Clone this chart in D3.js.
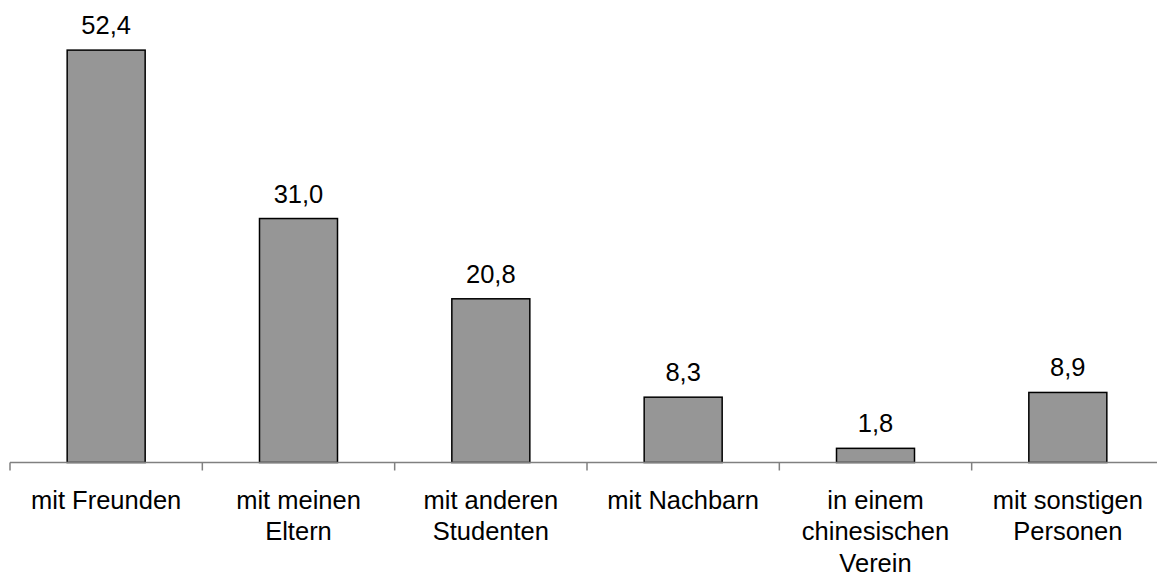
<!DOCTYPE html>
<html><head><meta charset="utf-8">
<script src="https://cdn.jsdelivr.net/npm/d3@7"></script>
<style>html,body{margin:0;padding:0;background:#fff;}svg{display:block;}</style>
</head><body>
<svg id="chart" width="1157" height="574"></svg>
<script>
const categories = [["mit Freunden"],["mit meinen","Eltern"],["mit anderen","Studenten"],["mit Nachbarn"],["in einem","chinesischen","Verein"],["mit sonstigen","Personen"]];
const categoryKeys = ["Freunden","Eltern","Studenten","Nachbarn","Verein","sonstige"];
const values = [52.4, 31.0, 20.8, 8.3, 1.8, 8.9];
const valueLabels = ["52,4","31,0","20,8","8,3","1,8","8,9"];

const svg = d3.select("#chart");
const x = d3.scaleBand().domain(categoryKeys).range([10, 1164]).paddingInner(0).paddingOuter(0);
const y = d3.scaleLinear().domain([0, 60]).range([462.5, -9.7]);
const barW = 78;
const font = "Liberation Sans, Arial, sans-serif";

// bars
svg.selectAll("rect.bar").data(values).enter().append("rect")
  .attr("x", (d,i) => x(categoryKeys[i]) + x.bandwidth()/2 - barW/2)
  .attr("y", d => y(d))
  .attr("width", barW)
  .attr("height", d => y(0) - y(d))
  .attr("fill", "#969696")
  .attr("stroke", "#000")
  .attr("stroke-width", 1.5);

// axis
const axisG = svg.append("g").attr("transform", "translate(0,462.5)");
axisG.append("line").attr("x1", 10).attr("x2", 1164).attr("y1", 0).attr("y2", 0)
  .attr("stroke", "#808080").attr("stroke-width", 1.5);
categoryKeys.forEach(k => {
  axisG.append("line").attr("x1", x(k)).attr("x2", x(k)).attr("y1", 0).attr("y2", 8)
    .attr("stroke", "#808080").attr("stroke-width", 1.5);
});

// value labels
svg.selectAll("text.val").data(values).enter().append("text")
  .attr("x", (d,i) => x(categoryKeys[i]) + x.bandwidth()/2)
  .attr("y", d => y(d) - 16)
  .attr("text-anchor", "middle")
  .attr("font-family", font)
  .attr("font-size", 25.5)
  .attr("fill", "#000")
  .text((d,i) => valueLabels[i]);

// category labels
categories.forEach((lines, i) => {
  const t = svg.append("text")
    .attr("text-anchor", "middle")
    .attr("font-family", font)
    .attr("font-size", 25.5)
    .attr("fill", "#000");
  lines.forEach((ln, j) => {
    t.append("tspan").attr("x", x(categoryKeys[i]) + x.bandwidth()/2)
      .attr("y", 509 + j*31.3).text(ln);
  });
});
</script>
</body></html>
